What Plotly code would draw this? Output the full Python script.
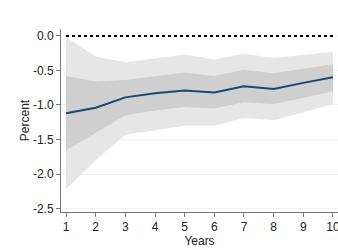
import plotly.graph_objects as go

years = [1, 2, 3, 4, 5, 6, 7, 8, 9, 10]
estimate = [-1.12, -1.04, -0.89, -0.83, -0.79, -0.82, -0.73, -0.77, -0.68, -0.60]
inner_upper = [-0.58, -0.66, -0.64, -0.58, -0.53, -0.58, -0.49, -0.54, -0.47, -0.41]
inner_lower = [-1.66, -1.40, -1.15, -1.08, -1.03, -1.05, -0.96, -0.99, -0.89, -0.80]
outer_upper = [-0.02, -0.30, -0.38, -0.32, -0.27, -0.34, -0.26, -0.32, -0.27, -0.23]
outer_lower = [-2.22, -1.80, -1.43, -1.36, -1.30, -1.30, -1.19, -1.22, -1.10, -0.99]
zero_line = [0.0] * len(years)

y_ticks = [0.0, -0.5, -1.0, -1.5, -2.0, -2.5]
y_tick_labels = ["0.0", "-0.5", "-1.0", "-1.5", "-2.0", "-2.5"]

fig = go.Figure()
fig.add_trace(go.Scatter(x=years + years[::-1], y=outer_upper + outer_lower[::-1],
                         fill="toself", fillcolor="#e6e6e6", line=dict(width=0),
                         mode="lines", hoverinfo="skip", showlegend=False))
fig.add_trace(go.Scatter(x=years + years[::-1], y=inner_upper + inner_lower[::-1],
                         fill="toself", fillcolor="#cfcfcf", line=dict(width=0),
                         mode="lines", hoverinfo="skip", showlegend=False))
fig.add_trace(go.Scatter(x=years, y=zero_line, mode="lines",
                         line=dict(color="black", width=2, dash="dot"), showlegend=False))
fig.add_trace(go.Scatter(x=years, y=estimate, mode="lines",
                         line=dict(color="#1a476f", width=2), showlegend=False))

fig.update_layout(
    width=338, height=250,
    margin=dict(l=61, r=0, t=29, b=38),
    paper_bgcolor="white", plot_bgcolor="white",
    font=dict(family="Liberation Sans, Arial, sans-serif", size=12, color="#222222"),
    showlegend=False,
)
fig.update_xaxes(range=[0.83, 10.17], tickvals=years, ticks="outside", ticklen=4,
                 tickcolor="#777777", showline=True, linecolor="#777777", linewidth=1,
                 showgrid=False, zeroline=False, automargin=False,
                 ticklabeloverflow="allow",
                 title=dict(text="Years", standoff=0, font=dict(size=12)),
                 tickfont=dict(size=12))
fig.update_yaxes(range=[-2.55, 0.1], tickvals=y_ticks, ticktext=y_tick_labels,
                 ticks="outside", ticklen=4, tickcolor="#777777",
                 showline=True, linecolor="#777777", linewidth=1,
                 showgrid=True, gridcolor="#eef4f5", gridwidth=1, zeroline=False,
                 automargin=False,
                 title=dict(text="Percent", standoff=0, font=dict(size=12)),
                 tickfont=dict(size=12))

fig.write_html("out.html", config={"displayModeBar": False},
               post_script="document.body.style.margin='0px';document.body.style.overflow='hidden';")
